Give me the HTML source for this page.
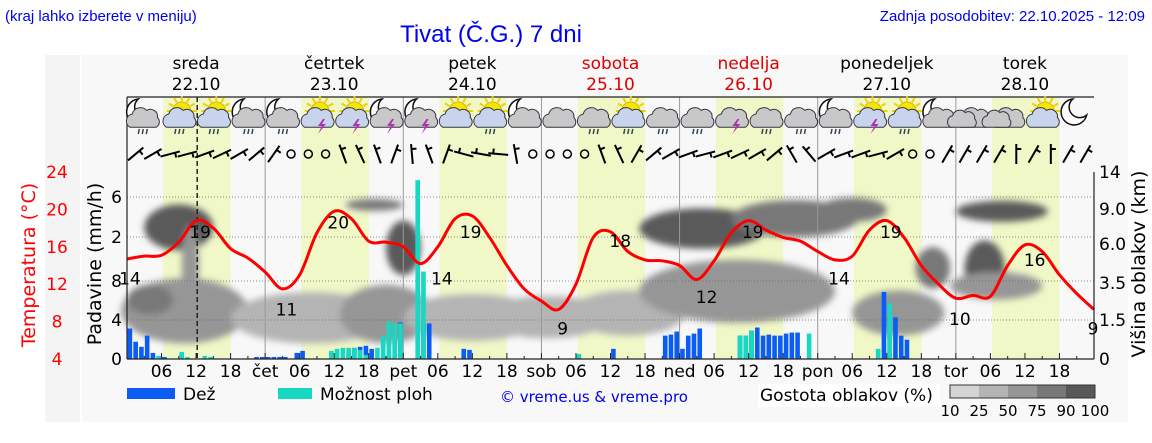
<!DOCTYPE html>
<html><head><meta charset="utf-8"><style>
body{margin:0;background:#fff;width:1152px;height:443px;overflow:hidden}
svg{display:block}
text{font-family:"DejaVu Sans","Liberation Sans",sans-serif}
.hdr{font-family:"Liberation Sans Narrow","Liberation Sans",sans-serif}
</style></head><body>
<svg id="c" width="1152" height="443" viewBox="0 0 1152 443" xmlns="http://www.w3.org/2000/svg">
<defs><filter id="bl" x="-50%" y="-50%" width="200%" height="200%"><feGaussianBlur stdDeviation="3.5"/></filter></defs>
<rect x="45" y="55" width="35" height="367" fill="#f4f4f4"/>
<rect x="82" y="55" width="1046" height="367" fill="#f8f8f8"/>
<text class="hdr" x="5" y="21" font-size="15" fill="#0000ee">(kraj lahko izberete v meniju)</text>
<text class="hdr" x="491" y="42" font-size="24" fill="#0000ee" text-anchor="middle">Tivat (Č.G.) 7 dni</text>
<text class="hdr" x="1145" y="21" font-size="15" fill="#0000ee" text-anchor="end">Zadnja posodobitev: 22.10.2025 - 12:09</text>
<g id="g"></g>
</svg>
<script>
const dayNames=["sreda","četrtek","petek","sobota","nedelja","ponedeljek","torek"];
const dayDates=["22.10","23.10","24.10","25.10","26.10","27.10","28.10"];
const dayShort=["","čet","pet","sob","ned","pon","tor"];
const weekend=[false,false,false,true,true,false,false];
const tempHours=[0,3,6,9,12,15,18,21,24,27,30,33,36,39,42,45,48,51,54,57,60,63,66,69,72,75,78,81,84,87,90,93,96,99,102,105,108,111,114,117,120,123,126,129,132,135,138,141,144,147,150,153,156,159,162,165,168];
const tempValues=[14.7,15.0,15.1,16.5,18.8,18.0,15.8,14.8,13.3,11.5,13.0,17.5,19.8,19.0,16.6,16.5,16.0,14.2,16.0,19.0,19.3,17.0,14.0,11.5,10.2,9.3,12.0,17.0,17.6,15.5,14.6,14.5,14.0,12.5,14.5,17.5,18.8,17.8,17.0,16.6,15.5,14.6,15.0,17.8,18.8,17.0,14.0,12.0,10.5,10.8,10.7,14.0,16.2,15.5,13.0,11.0,9.3];
const tempLabels=[[0,14],[12,19],[27,11],[36,20],[54,14],[59,19],[75,9],[85,18],[100,12],[108,19],[123,14],[132,19],[144,10],[157,16],[168,9]];
const rainHours=[0,1,2,3,4,5,6,22,23,24,25,26,27,29,30,38,39,40,41,42,45,46,47,51,52,58,59,84,93,94,95,96,97,98,99,106,107,108,109,110,111,112,113,114,115,116,131,132,133,134,135];
const rainValues=[3.0,1.7,1.2,2.3,0.6,0.3,0.2,0.2,0.2,0.2,0.2,0.2,0.2,0.6,0.8,0.5,1.1,1.2,1.3,1.0,0.4,0.3,3.6,3.5,3.5,1.0,0.9,1.0,2.3,2.4,2.7,1.0,2.3,2.5,3.0,2.3,2.3,2.8,3.1,2.3,2.4,2.3,2.3,2.5,2.6,2.6,6.6,5.5,4.1,2.3,1.9];
const showerHours=[5,9,10,13,14,35,36,37,38,39,40,41,43,44,45,46,47,50,51,78,106,107,108,118,130,132];
const showerValues=[0.3,0.7,0.2,0.3,0.2,0.8,1.0,1.1,1.1,1.1,0.9,0.4,1.1,2.3,3.7,3.5,3.5,17.6,8.6,0.5,2.3,2.3,2.8,2.5,1.0,5.5];
const cloudBlobs=[[10,2.2,22,3.2,55],[4,2.6,8,1.6,80],[9,7.6,12,4,90],[11,5,3,5,70],[32,1.8,28,2.4,40],[45,2.0,16,2.8,50],[43,9.6,10,1.5,75],[48,6,6,4,90],[60,1.8,24,2.2,40],[73,1.8,22,2,40],[87,2,20,2.2,45],[100,7.4,22,3.4,90],[116,8.4,22,3.6,85],[126,9.2,12,2.6,80],[106,3.2,34,3.6,55],[134,2,16,2.2,50],[140,4.5,6,2.6,75],[152,9.0,16,2.2,90],[149,4.5,7,3.6,90],[151,3.4,16,1.6,50]];
const iconTypes=["mcr","scr","scr","mcr","mcr","sl","sl","ml","ml","sc","scr","mc","c","cr","scr","cr","cr","cl","cr","cr","mcr","scl","scr","mc","cc","cc","sc","m"];
const windDirs=[40,30,15,15,20,25,30,40,55,-1,-1,-1,110,115,110,70,95,110,70,165,170,175,100,-1,-1,-1,-1,110,115,60,40,30,20,15,20,25,30,40,120,130,30,20,20,15,30,-1,-1,60,60,60,60,90,60,90,60,60];
const precipTicks=["0","4","8","2","6"];
const tempTicks=[4,8,12,16,20,24];
const cloudTicks=[0,1.5,3.5,6.0,9.0,14];
const cloudTickLabels=["0","1.5","3.5","6.0","9.0","14"];
const densLevels=["10","25","50","75","90","100"];

const NS="http://www.w3.org/2000/svg";
const G=document.getElementById('g');
const L=127,R=1094,T0=97,PT=172,PB=359;
const X=h=>L+h*(R-L)/168;
const YT=t=>PB-(t-4)*(PB-PT)/20;
const YP=v=>PB-v*(PB-PT)/18.4;
function YC(k){const a=cloudTicks,py=[359,320,283,244,209,172];for(let i=0;i<a.length-1;i++){if(k<=a[i+1]){return py[i]+(k-a[i])/(a[i+1]-a[i])*(py[i+1]-py[i]);}}return 172;}
function mk(tag,at,par){const e=document.createElementNS(NS,tag);for(const k in at)e.setAttribute(k,at[k]);(par||G).appendChild(e);return e;}
function tx(x,y,s,size,fill,anchor){const e=mk('text',{x:x,y:y,'font-size':size,fill:fill||'#000','text-anchor':anchor||'middle'});e.textContent=s;return e;}

for(let d=0;d<7;d++){const b=mk('rect',{x:X(d*24+6.3),y:T0,width:X(18)-X(6.3),height:PB-T0,fill:'#f0f8c8'});

}
const dcol=v=>v>=90?'#5a5a5a':v>=75?'#787878':v>=50?'#969696':v>=25?'#b4b4b4':'#d4d4d4';
const cg=mk('g',{filter:'url(#bl)'});
cloudBlobs.forEach(c=>{const y1=YC(c[1]+c[3]/2),y2=YC(Math.max(0,c[1]-c[3]/2));
const e=mk('ellipse',{cx:X(c[0]),cy:(y1+y2)/2,rx:X(c[2]/2)-X(0),ry:(y2-y1)/2,fill:dcol(c[4])},cg);

});
[359,320,281,237,197].forEach(y=>{mk('line',{x1:L,x2:R,y1:y,y2:y,stroke:'#666','stroke-dasharray':'1,2','stroke-width':0.8});});
for(let d=1;d<7;d++){mk('line',{x1:X(d*24),x2:X(d*24),y1:T0,y2:PB,stroke:'#999','stroke-width':1});}
const nl=mk('line',{x1:X(12.2),x2:X(12.2),y1:T0,y2:PB,stroke:'#222','stroke-width':1.5,'stroke-dasharray':'5,3'});


const bw=4.6;
rainHours.forEach((h,i)=>{const y=YP(rainValues[i]);const b=mk('rect',{x:X(h)+0.6,y:y,width:bw,height:PB-y,fill:'#0a5cf5'});

});
showerHours.forEach((h,i)=>{const y=YP(showerValues[i]);const b=mk('rect',{x:X(h)+0.6,y:y,width:bw,height:PB-y,fill:'#18d8c4'});

});
let pts=tempHours.map((h,i)=>[X(h),YT(tempValues[i])]);
let d='M'+pts[0][0]+','+pts[0][1];
for(let i=0;i<pts.length-1;i++){const p0=pts[Math.max(0,i-1)],p1=pts[i],p2=pts[i+1],p3=pts[Math.min(pts.length-1,i+2)];
d+=` C${p1[0]+(p2[0]-p0[0])/6},${p1[1]+(p2[1]-p0[1])/6} ${p2[0]-(p3[0]-p1[0])/6},${p2[1]-(p3[1]-p1[1])/6} ${p2[0]},${p2[1]}`;}
const tc=mk('path',{d:d,fill:'none',stroke:'#ff0000','stroke-width':3});


tempLabels.forEach(t=>{const e=tx(X(t[0])+(t[0]==0?3:t[0]==168?-1:4),YT(t[1])+(t[1]<12?22:19),String(t[1]),17,'#000');

});
mk('line',{x1:L,x2:L,y1:T0,y2:PB,stroke:'#222','stroke-width':1.2});
mk('line',{x1:L,x2:R,y1:T0,y2:T0,stroke:'#222','stroke-width':1.2});
mk('line',{x1:L,x2:R,y1:PB,y2:PB,stroke:'#222','stroke-width':1.2});
mk('line',{x1:R,x2:R,y1:PT,y2:PB,stroke:'#222','stroke-width':1.2});
for(let h=0;h<=168;h+=3){mk('line',{x1:X(h),x2:X(h),y1:PB,y2:PB-(h%6==0?6:3),stroke:'#222'});}
for(let d=0;d<7;d++){[6,12,18].forEach(hh=>{const e=tx(X(d*24+hh),377,String(hh).padStart(2,'0'),17);

});
if(d>0){const e=tx(X(d*24),377,dayShort[d],17);

}
const col=weekend[d]?'#dd0000':'#000';
const n=tx(X(d*24+12),69,dayNames[d],17,col);


const dt=tx(X(d*24+12),90,dayDates[d],17,col);

}
[359,320,281,237,197].forEach((y,i)=>{const e=tx(122,y+6,precipTicks[i],17,'#000','end');

});
tempTicks.forEach(t=>{const e=tx(57,YT(t)+6,String(t),17,'#ff0000','middle');

});
cloudTicks.forEach((k,i)=>{const e=tx(1099,YC(k)+6,cloudTickLabels[i],17,'#000','start');

});
let a=tx(0,0,'Temperatura (°C)',19,'#ff0000');a.setAttribute('transform','translate(35,265) rotate(-90)');


a=tx(0,0,'Padavine (mm/h)',19,'#000');a.setAttribute('transform','translate(101,264) rotate(-90)');


a=tx(0,0,'Višina oblakov (km)',19,'#000');a.setAttribute('transform','translate(1145,264) rotate(-90)');


function cloud(g,x,y,fill,s){mk('path',{d:`M${x-12*s},${y+6*s} a${6*s},${6*s} 0 0 1 ${2*s},${-11*s} a${7*s},${7*s} 0 0 1 ${12*s},${-3*s} a${6*s},${6*s} 0 0 1 ${9*s},${6*s} a${5*s},${5*s} 0 0 1 ${-1*s},${8*s} z`,fill:fill,stroke:'#334',"stroke-width":1},g);}
iconTypes.forEach((t,i)=>{const x=X(3+6*i)+(i==0?-2:0),y=116;const g=mk('g',{});


if(t[0]=='m'){mk('path',{d:`M${x-4},${y-17} a13,13 0 1 0 14,16 a10,10 0 0 1 -14,-16 z`,fill:'#fff',stroke:'#111','stroke-width':1.5},g);}
if(t[0]=='s'){for(let k=0;k<12;k++){const an=k*Math.PI/6;mk('line',{x1:x+3+Math.cos(an)*10,y1:y-5+Math.sin(an)*10,x2:x+3+Math.cos(an)*15,y2:y-5+Math.sin(an)*15,stroke:'#f0d000','stroke-width':2},g);}mk('circle',{cx:x+3,cy:y-5,r:9,fill:'#f5e800',stroke:'#e0b000'},g);}
if(t.includes('c')||t=='ml'||t=='sl'){const cc=t=='cc';cloud(g,x+2,y+4,t[0]=='s'?'#c8d4ec':'#c8c8c8',1.2);if(cc)cloud(g,x-10,y+5,'#c8c8c8',1.05);}
if(t.endsWith('r')){for(let k=0;k<3;k++)mk('line',{x1:x-3+k*4,y1:y+13,x2:x-4+k*4,y2:y+18,stroke:'#345','stroke-width':1.5},g);}
if(t.endsWith('l')){mk('path',{d:`M${x+6},${y+3} l-5,7 h4 l-4,8 l8,-10 h-4 l3,-5 z`,fill:'#b030b0'},g);}
});
windDirs.forEach((w,i)=>{const x=X(1.5+3*i),y=154;const g=mk('g',{});


if(w<0){mk('circle',{cx:x,cy:y,r:4,fill:'none',stroke:'#000','stroke-width':1.5},g);return;}
const an=w*Math.PI/180,dx=Math.cos(an)*10,dy=Math.sin(an)*10;
mk('line',{x1:x-dx,y1:y+dy,x2:x+dx,y2:y-dy,stroke:'#000','stroke-width':2},g);
mk('line',{x1:x+dx*0.5,y1:y-dy*0.5,x2:x+dx*0.5+dy*0.5,y2:y-dy*0.5+dx*0.5,stroke:'#000','stroke-width':2},g);});
let r=mk('rect',{x:127,y:388,width:48,height:11,fill:'#0a5cf5'});
a=tx(183,400,'Dež',17,'#000','start');
r=mk('rect',{x:278,y:388,width:34,height:11,fill:'#18d8c4'});
a=tx(320,400,'Možnost ploh',17,'#000','start');
a=tx(500,402,'© vreme.us & vreme.pro',15,'#0000ee','start');a.setAttribute('font-family','"Liberation Sans",sans-serif');
r=mk('rect',{x:758,y:384,width:182,height:23,fill:'#fff'});
a=tx(760,401,'Gostota oblakov (%)',17,'#000','start');
const cbc=['#d4d4d4','#b4b4b4','#969696','#787878','#585858'];
cbc.forEach((c,i)=>{const e=mk('rect',{x:950+i*29,y:385,width:29,height:13,fill:c});

});
mk('rect',{x:950,y:385,width:145,height:13,fill:'none',stroke:'#333'});
densLevels.forEach((s,i)=>{const e=tx(950+i*29,416,s,15,'#000');

});
</script>
</body></html>
